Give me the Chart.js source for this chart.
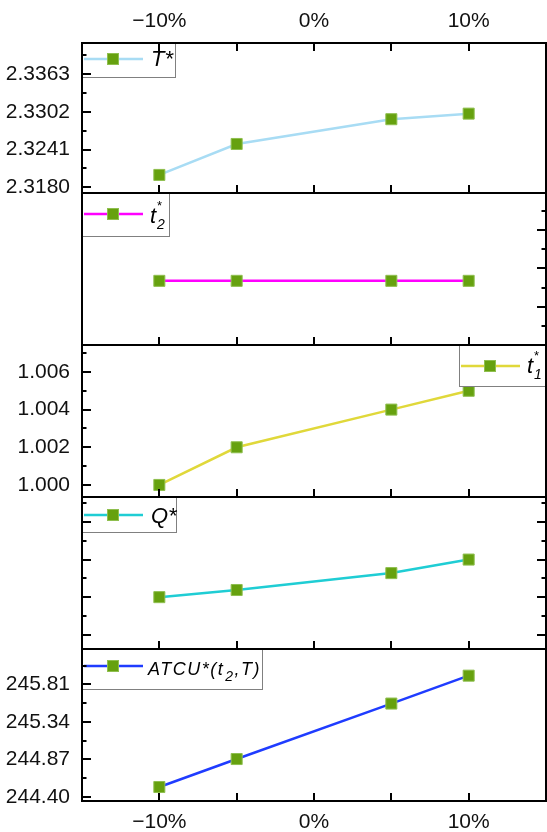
<!DOCTYPE html>
<html>
<head>
<meta charset="utf-8">
<script src="https://cdn.jsdelivr.net/npm/chart.js@4.4.0/dist/chart.umd.min.js"></script>
<style>
body { margin: 0; background: #fff; }
#wrap { position: relative; width: 547px; height: 832px; }
canvas { position: absolute; left: 0; }
</style>
</head>
<body>
<div id="wrap">
<canvas id="c1" width="547" height="193" style="top:0px"></canvas>
<canvas id="c2" width="547" height="152" style="top:193px"></canvas>
<canvas id="c3" width="547" height="152" style="top:345px"></canvas>
<canvas id="c4" width="547" height="152" style="top:497px"></canvas>
<canvas id="c5" width="547" height="183" style="top:649px"></canvas>
</div>
<script>
// shared x values (change in %)
var xValues = [-10, -5, 5, 10];
var xTickValues = [-10, 0, 10];
var xTickLabels = ['\u221210%', '0%', '10%'];
var xTickMarks = [-10, -5, 0, 5, 10];

var tValues = [2.3200, 2.3250, 2.3290, 2.3299];
var tTicks = [2.3180, 2.3241, 2.3302, 2.3363];

var t2Values = [0.84, 0.84, 0.84, 0.84];
var t2Ticks = [0.5, 1.0, 1.5];

var t1Values = [1.000, 1.002, 1.004, 1.005];
var t1Ticks = [1.000, 1.002, 1.004, 1.006];

var qValues = [50.0, 51.9, 56.4, 60.0];
var qTicks = [40, 50, 60, 70];

var atcuValues = [244.525, 244.875, 245.569, 245.918];
var atcuTicks = [244.40, 244.87, 245.34, 245.81];

var FONT = '"Liberation Sans", Arial, sans-serif';
var MARK_FILL = '#66a10f';
var MARK_EDGE = '#8fbf4f';

function drawSquare(ctx, x, y) {
    ctx.fillStyle = MARK_FILL;
    ctx.fillRect(x - 5.5, y - 5.5, 11, 11);
    ctx.strokeStyle = MARK_EDGE;
    ctx.lineWidth = 1;
    ctx.strokeRect(x - 5.5, y - 5.5, 11, 11);
}

function drawParts(ctx, parts, x, y, size, spacing) {
    ctx.fillStyle = '#000';
    ctx.textBaseline = 'alphabetic';
    ctx.textAlign = 'left';
    ctx.letterSpacing = spacing || '0px';
    parts.forEach(function(p) {
        if (p.t) {
            ctx.font = 'italic ' + size + 'px ' + FONT;
            ctx.fillText(p.t, x, y);
            x += ctx.measureText(p.t).width;
        } else {
            var w = 0;
            if (p.sup) {
                ctx.font = '13px ' + FONT;
                ctx.fillText(p.sup, x + 1, y - 13);
                w = ctx.measureText(p.sup).width;
            }
            if (p.sub) {
                ctx.font = 'italic 14px ' + FONT;
                ctx.fillText(p.sub, x + 1, y + 6);
                w = Math.max(w, ctx.measureText(p.sub).width);
            }
            x += w + 1;
        }
    });
    ctx.letterSpacing = '0px';
}

function noPad(s) {
    s.paddingTop = 0;
    s.paddingBottom = 0;
    s.paddingLeft = 0;
    s.paddingRight = 0;
}

function makePanel(id, cfg) {
    var panelPlugin = {
        id: 'panel' + id,
        afterDatasetsDraw: function(chart) {
            var ctx = chart.ctx, a = chart.chartArea, L = cfg.legend;
            var bx = L.right ? a.right - L.w : a.left;
            var by = a.top;
            ctx.save();
            ctx.fillStyle = '#fff';
            ctx.fillRect(bx, by, L.w, L.h);
            ctx.strokeStyle = '#808080';
            ctx.lineWidth = 1;
            ctx.strokeRect(bx + 0.5, by + 0.5, L.w - 1, L.h - 1);
            var ly = by + L.ly;
            ctx.strokeStyle = cfg.color;
            ctx.lineWidth = 2.5;
            ctx.beginPath();
            ctx.moveTo(bx + 2, ly);
            ctx.lineTo(bx + 61, ly);
            ctx.stroke();
            drawSquare(ctx, bx + 31, ly);
            drawParts(ctx, L.parts, bx + L.tx, ly + L.base, L.size || 22, L.spacing);
            ctx.restore();
        },
        afterDraw: function(chart) {
            var ctx = chart.ctx, a = chart.chartArea;
            var xs = chart.scales.x, ys = chart.scales.y;
            ctx.save();
            ctx.strokeStyle = '#000';
            ctx.lineWidth = 2;
            ctx.beginPath();
            // y ticks, majors plus half-step minors
            var step = cfg.ticks[1] - cfg.ticks[0];
            var marks = [];
            cfg.ticks.forEach(function(v) { marks.push([v, 9]); });
            for (var m = cfg.ticks[0] - step / 2; m <= cfg.max; m += step) {
                if (m >= cfg.min) marks.push([m, 4.5]);
            }
            marks.forEach(function(mk) {
                var py = Math.round(ys.getPixelForValue(mk[0]));
                if (cfg.left) { ctx.moveTo(a.left, py); ctx.lineTo(a.left + mk[1], py); }
                if (cfg.right) { ctx.moveTo(a.right, py); ctx.lineTo(a.right - mk[1], py); }
            });
            // x ticks, pointing inward
            xTickMarks.forEach(function(v) {
                var px = Math.round(xs.getPixelForValue(v));
                ctx.moveTo(px, a.bottom); ctx.lineTo(px, a.bottom - 8);
                if (cfg.top) { ctx.moveTo(px, a.top); ctx.lineTo(px, a.top + 8); }
            });
            ctx.stroke();
            ctx.strokeRect(a.left, a.top, a.right - a.left, a.bottom - a.top);
            ctx.restore();
        }
    };

    return new Chart(document.getElementById(id), {
        type: 'line',
        data: {
            datasets: [{
                data: xValues.map(function(x, i) { return {x: x, y: cfg.values[i]}; }),
                borderColor: cfg.color,
                borderWidth: 2.5,
                tension: 0,
                pointStyle: 'rect',
                pointRadius: 7.8,
                pointBackgroundColor: MARK_FILL,
                pointBorderColor: MARK_EDGE,
                pointBorderWidth: 1
            }]
        },
        options: {
            responsive: false,
            animation: false,
            devicePixelRatio: 1,
            layout: { autoPadding: false, padding: { left: 0, right: 1, top: 0, bottom: 0 } },
            plugins: { legend: { display: false }, tooltip: { enabled: false } },
            scales: {
                x: {
                    type: 'linear',
                    min: -15,
                    max: 15,
                    display: !!cfg.xPos,
                    position: cfg.xPos || 'bottom',
                    grid: { display: false, drawTicks: false },
                    border: { display: false },
                    afterBuildTicks: function(s) { s.ticks = xTickValues.map(function(v) { return {value: v}; }); },
                    afterFit: function(s) {
                        s.height = cfg.xPos === 'top' ? 43 : (cfg.xPos ? 31 : 0);
                        noPad(s);
                    },
                    ticks: {
                        padding: 9,
                        maxRotation: 0,
                        autoSkip: false,
                        color: '#111',
                        font: { family: FONT, size: 21 },
                        callback: function(v) { return xTickLabels[xTickValues.indexOf(v)]; }
                    }
                },
                y: {
                    type: 'linear',
                    min: cfg.min,
                    max: cfg.max,
                    grid: { display: false, drawTicks: false },
                    border: { display: false },
                    afterBuildTicks: function(s) { s.ticks = cfg.ticks.map(function(v) { return {value: v}; }); },
                    afterFit: function(s) { s.width = 82; noPad(s); },
                    ticks: {
                        display: cfg.labels,
                        padding: 12,
                        color: '#111',
                        font: { family: FONT, size: 21 },
                        callback: function(v) { return v.toFixed(cfg.dec); }
                    }
                }
            }
        },
        plugins: [panelPlugin]
    });
}

makePanel('c1', {
    values: tValues, ticks: tTicks, min: 2.31708, max: 2.34131, dec: 4, labels: true,
    color: '#a8dcf4', left: true, top: true, xPos: 'top',
    legend: { w: 94, h: 35, ly: 16, tx: 69, base: 7, parts: [{t: 'T*'}] }
});
makePanel('c2', {
    values: t2Values, ticks: t2Ticks, min: 0.008, max: 1.979, dec: 1, labels: false,
    color: '#ff00ff', right: true,
    legend: { w: 88, h: 44, ly: 21, tx: 68, base: 9, parts: [{t: 't'}, {sup: '*', sub: '2'}] }
});
makePanel('c3', {
    values: t1Values, ticks: t1Ticks, min: 0.99936, max: 1.00743, dec: 3, labels: true,
    color: '#e0d83a', left: true,
    legend: { right: true, w: 87, h: 42, ly: 21, tx: 68, base: 7, parts: [{t: 't'}, {sup: '*', sub: '1'}] }
});
makePanel('c4', {
    values: qValues, ticks: qTicks, min: 36.2, max: 76.65, dec: 0, labels: false,
    color: '#1fcdd4', left: true, right: true,
    legend: { w: 95, h: 36, ly: 18, tx: 69, base: 8, parts: [{t: 'Q*'}] }
});
makePanel('c5', {
    values: atcuValues, ticks: atcuTicks, min: 244.35, max: 246.2516, dec: 2, labels: true,
    color: '#1f3cff', left: true, xPos: 'bottom',
    legend: { w: 181, h: 41, ly: 17, tx: 66, base: 9, size: 18, spacing: '1.5px', parts: [{t: 'ATCU*(t'}, {sub: '2'}, {t: ',T)'}] }
});
</script>
</body>
</html>
